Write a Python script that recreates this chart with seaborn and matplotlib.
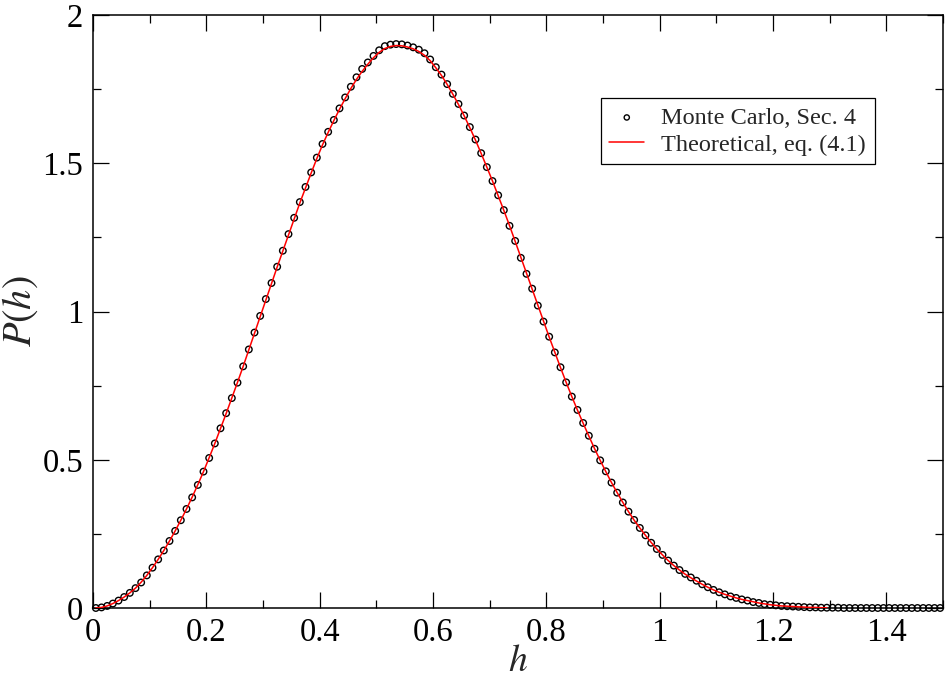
import matplotlib
matplotlib.use("Agg")
import matplotlib.pyplot as plt
from matplotlib.ticker import MultipleLocator, FuncFormatter
import numpy as np
import pandas as pd
import seaborn as sns

# histogram bin centres (bin width 0.01)
h_values = np.round(np.arange(0.005, 1.5, 0.01), 3)

mc_values = [
    0.000, 0.002, 0.007, 0.015, 0.025, 0.037, 0.051, 0.067, 0.086, 0.110,
    0.136, 0.164, 0.194, 0.226, 0.260, 0.296, 0.334, 0.373, 0.415, 0.460,
    0.506, 0.555, 0.606, 0.657, 0.708, 0.760, 0.815, 0.872, 0.929, 0.985,
    1.042, 1.096, 1.151, 1.205, 1.261, 1.316, 1.369, 1.420, 1.469, 1.519,
    1.565, 1.606, 1.646, 1.685, 1.722, 1.758, 1.790, 1.818, 1.840, 1.862,
    1.881, 1.895, 1.900, 1.902, 1.901, 1.897, 1.891, 1.883, 1.871, 1.850,
    1.824, 1.799, 1.767, 1.734, 1.700, 1.661, 1.622, 1.580, 1.534, 1.487,
    1.440, 1.392, 1.342, 1.289, 1.238, 1.181, 1.127, 1.077, 1.020, 0.966,
    0.915, 0.862, 0.812, 0.761, 0.713, 0.668, 0.624, 0.581, 0.537, 0.498,
    0.461, 0.423, 0.389, 0.356, 0.325, 0.297, 0.270, 0.245, 0.220, 0.199,
    0.179, 0.160, 0.143, 0.128, 0.115, 0.103, 0.092, 0.080, 0.070, 0.061,
    0.053, 0.046, 0.039, 0.034, 0.029, 0.025, 0.020, 0.017, 0.013, 0.011,
    0.009, 0.007, 0.006, 0.005, 0.004, 0.003, 0.002, 0.002, 0.001, 0.001,
    0.001, 0.001, 0.000, 0.000, 0.000, 0.000, 0.000, 0.000, 0.000, 0.000,
    0.000, 0.000, 0.000, 0.000, 0.000, 0.000, 0.000, 0.000, 0.000, 0.000,
]

# theoretical curve, same grid, stops at h ~ 1.3
theory_values = [
    0.000, 0.002, 0.007, 0.015, 0.025, 0.037, 0.051, 0.067, 0.087, 0.110,
    0.136, 0.164, 0.194, 0.226, 0.260, 0.296, 0.334, 0.374, 0.416, 0.460,
    0.507, 0.555, 0.605, 0.656, 0.708, 0.761, 0.815, 0.871, 0.928, 0.984,
    1.040, 1.095, 1.150, 1.204, 1.259, 1.313, 1.366, 1.417, 1.467, 1.516,
    1.562, 1.604, 1.644, 1.682, 1.718, 1.752, 1.783, 1.810, 1.834, 1.856,
    1.874, 1.887, 1.894, 1.897, 1.896, 1.892, 1.886, 1.877, 1.864, 1.846,
    1.822, 1.796, 1.766, 1.733, 1.698, 1.660, 1.620, 1.578, 1.533, 1.487,
    1.440, 1.391, 1.341, 1.290, 1.237, 1.183, 1.129, 1.075, 1.021, 0.967,
    0.914, 0.862, 0.811, 0.761, 0.713, 0.667, 0.623, 0.580, 0.538, 0.498,
    0.460, 0.423, 0.389, 0.356, 0.325, 0.296, 0.270, 0.245, 0.221, 0.199,
    0.179, 0.160, 0.143, 0.128, 0.114, 0.102, 0.091, 0.080, 0.070, 0.061,
    0.053, 0.046, 0.040, 0.034, 0.029, 0.025, 0.021, 0.017, 0.014, 0.011,
    0.009, 0.007, 0.006, 0.005, 0.004, 0.003, 0.002, 0.002, 0.001, 0.001,
]

MC_LABEL = 'Monte Carlo, Sec. 4'
TH_LABEL = 'Theoretical, eq. (4.1)'


def show_chart():
    sns.set_style("ticks")
    plt.rcParams['font.family'] = ['Liberation Serif', 'DejaVu Serif']
    plt.rcParams['mathtext.fontset'] = 'stix'

    df_mc = pd.DataFrame({'h': h_values, 'P': mc_values})
    df_th = pd.DataFrame({'h': h_values[:len(theory_values)], 'P': theory_values})

    fig = plt.figure(figsize=(9.46, 6.78), dpi=100)
    ax = fig.add_axes([93 / 946, 1 - 608 / 678, 850 / 946, 593 / 678])

    sns.scatterplot(data=df_mc, x='h', y='P', ax=ax, marker='o', s=22,
                    facecolor='none', edgecolor='black', linewidth=1.0,
                    label=MC_LABEL, clip_on=False, zorder=3)
    sns.lineplot(data=df_th, x='h', y='P', ax=ax, color='red', linewidth=1.1,
                 label=TH_LABEL, zorder=4)

    ax.set_xlim(0, 1.5)
    ax.set_ylim(0, 2)
    ax.xaxis.set_major_locator(MultipleLocator(0.2))
    ax.xaxis.set_minor_locator(MultipleLocator(0.1))
    ax.yaxis.set_major_locator(MultipleLocator(0.5))
    ax.yaxis.set_minor_locator(MultipleLocator(0.25))
    fmt = FuncFormatter(lambda v, p: '%g' % round(v, 3))
    ax.xaxis.set_major_formatter(fmt)
    ax.yaxis.set_major_formatter(fmt)

    ax.tick_params(which='both', direction='in', top=True, right=True,
                   width=0.9, colors='black', labelsize=23.5)
    ax.tick_params(which='major', length=11.5, pad=7)
    ax.tick_params(which='minor', length=6)
    for sp in ax.spines.values():
        sp.set_linewidth(1.1)
        sp.set_color('black')

    ax.set_xlabel('$h$', fontsize=27, labelpad=-3)
    ax.set_ylabel('$P(h)$', fontsize=29, labelpad=2)

    leg = ax.legend(loc='upper right', bbox_to_anchor=(0.9196, 0.8595),
                    borderaxespad=0, fontsize=17.5, frameon=True, fancybox=False,
                    edgecolor='black', framealpha=1, handlelength=1.45,
                    handletextpad=0.7, labelspacing=0.2, borderpad=0.35,
                    markerscale=0.8)
    leg.get_frame().set_linewidth(0.9)

    fig.savefig("out.png", dpi=100)


if __name__ == '__main__':
    show_chart()
